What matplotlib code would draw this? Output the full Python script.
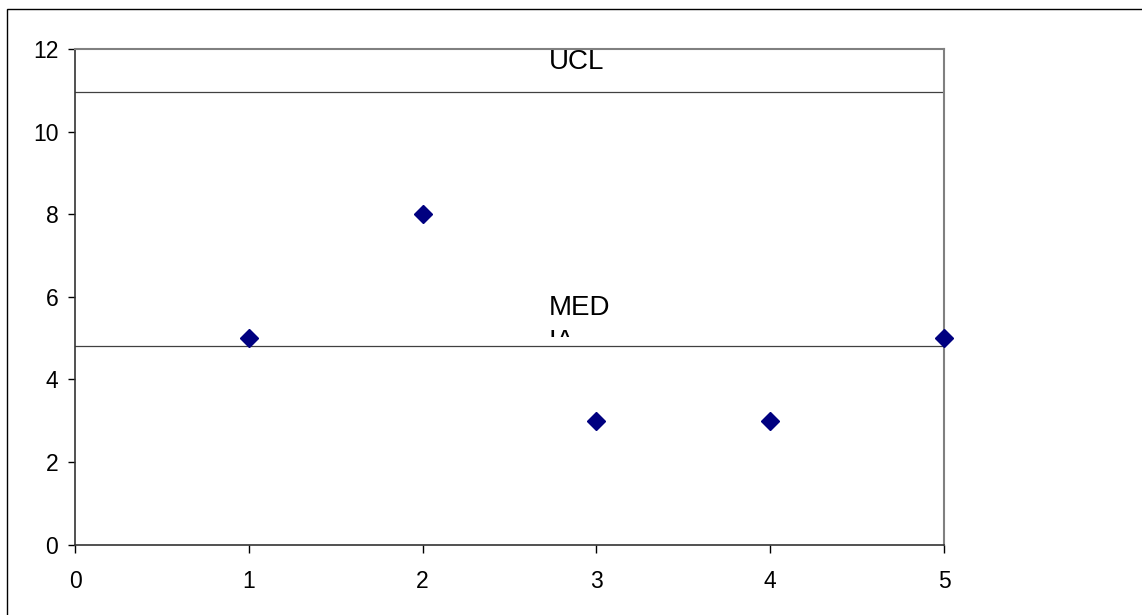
import matplotlib
matplotlib.use("Agg")
import matplotlib.pyplot as plt
from matplotlib.patches import Rectangle

# Control chart data
samples = [1, 2, 3, 4, 5]
values = [5, 8, 3, 3, 5]
center = 4.8
ucl = 10.96
x_ticks = [0, 1, 2, 3, 4, 5]
y_ticks = [0, 2, 4, 6, 8, 10, 12]

plt.rcParams['font.family'] = ['Liberation Sans', 'DejaVu Sans']

fig = plt.figure(figsize=(11.42, 6.15), dpi=100)
fig.patch.set_facecolor('white')

# outer frame of the chart area
fig.patches.append(Rectangle((7 / 1142, -0.1), 1.2, 1 - 9 / 615 + 0.1,
                             transform=fig.transFigure, fill=False,
                             edgecolor='black', linewidth=1.0, zorder=0))

ax = fig.add_axes([75 / 1142, 1 - 544.5 / 615, (944 - 75) / 1142, (544.5 - 49) / 615])
ax.set_xlim(0, 5)
ax.set_ylim(0, 12)

# limit lines
ax.plot([0, 5], [ucl, ucl], color='#404040', linewidth=0.9, zorder=2)
ax.plot([0, 5], [center, center], color='#404040', linewidth=0.9, zorder=2)

# observations
ax.plot(samples, values, linestyle='none', marker='D', markersize=9.5,
        color='#000080', markeredgecolor='#000080', clip_on=False, zorder=4)

# labels on the lines
ax.text(2.727, 11.51, 'UCL', fontsize=20, va='baseline', ha='left', color='black')
ax.text(2.727, 5.56, 'MED', fontsize=20, va='baseline', ha='left', color='black')
# second line of the label is cut off by its text box
ia = ax.text(2.727, 4.73, 'IA', fontsize=20, va='baseline', ha='left', color='black')
clip = Rectangle((2.6, 5.02), 1.0, 1.5, transform=ax.transData)
ia.set_clip_on(True)
ia.set_clip_path(clip)

ax.set_xticks(x_ticks)
ax.set_yticks(y_ticks)
ax.tick_params(axis='both', labelsize=16.5, colors='black', width=1.0, direction='out')
ax.tick_params(axis='y', length=5, pad=7)
ax.tick_params(axis='x', length=6, pad=12)

for side in ['top', 'right']:
    ax.spines[side].set_color('#808080')
    ax.spines[side].set_linewidth(1.5)
for side in ['left', 'bottom']:
    ax.spines[side].set_color('#333333')
    ax.spines[side].set_linewidth(1.2)

fig.savefig('out.png', dpi=100, facecolor='white')
